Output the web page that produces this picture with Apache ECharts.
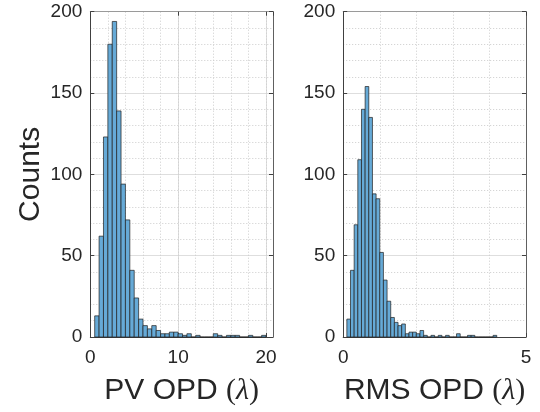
<!DOCTYPE html>
<html>
<head>
<meta charset="utf-8">
<title>OPD histograms</title>
<script src="https://cdn.jsdelivr.net/npm/echarts@6/dist/echarts.min.js"></script>
<style>
  html, body { margin: 0; padding: 0; background: #fff; }
  #chart { width: 540px; height: 412px; }
</style>
</head>
<body>
<div id="chart"></div>
<script>
// PV OPD histogram: bins of 0.5 starting at 0.5
var pvBinStart = 0.5;
var pvBinWidth = 0.5;
var pvCounts = [13, 62, 123, 180, 194, 139, 94, 72, 41, 24,
                11, 7, 5, 7, 4, 2, 2, 3, 3, 2,
                1, 2, 0, 1, 0, 0, 0, 2, 1, 0,
                1, 1, 1, 0, 0, 1, 0, 0, 1];

// RMS OPD histogram: bins of 0.1 starting at 0.1
var rmsBinStart = 0.1;
var rmsBinWidth = 0.1;
var rmsCounts = [11, 41, 69, 109, 140, 154, 135, 88, 85, 52,
                 35, 22, 12, 9, 7, 8, 2, 3, 3, 2,
                 4, 1, 0, 1, 0, 1, 0, 1, 0, 0,
                 2, 0, 0, 1, 1, 0, 0, 0, 0, 0,
                 1];

var countTicks = [0, 50, 100, 150, 200];
var pvTicks = [0, 10, 20];
var rmsTicks = [0, 5];

var textColor = "#262626";
var sansFont = "Liberation Sans, Arial, sans-serif";
var serifFont = "Liberation Serif, DejaVu Serif, serif";

function toBins(start, width, counts) {
  var out = [];
  for (var i = 0; i < counts.length; i++) {
    var lo = start + i * width;
    out.push([lo, lo + width, counts[i]]);
  }
  return out;
}

function renderBar(params, api) {
  var topLeft = api.coord([api.value(0), api.value(2)]);
  var bottomRight = api.coord([api.value(1), 0]);
  return {
    type: "rect",
    shape: {
      x: topLeft[0],
      y: topLeft[1],
      width: bottomRight[0] - topLeft[0],
      height: bottomRight[1] - topLeft[1]
    },
    style: {
      fill: "#66aad7",
      stroke: "#1f1f1f",
      lineWidth: 0.7
    }
  };
}

function axisTitle(label) {
  return "{s|" + label + " }{p|(}{l|λ}{p|)}";
}

var titleRich = {
  s: { fontFamily: sansFont, fontSize: 30, color: textColor },
  p: { fontFamily: serifFont, fontSize: 30, color: textColor },
  l: { fontFamily: serifFont, fontStyle: "italic", fontSize: 30, color: textColor }
};

// bottom axis with labels, major grid lines and the title
function bottomAxis(grid, max, interval, title, minorSplit) {
  return {
    type: "value",
    gridIndex: grid,
    position: "bottom",
    min: 0,
    max: max,
    interval: interval,
    axisLine: { show: true, onZero: false, lineStyle: { color: "#404040", width: 1 } },
    axisTick: { show: true, inside: true, length: 4, lineStyle: { color: "#404040" } },
    axisLabel: {
      show: true,
      margin: 11,
      showMaxLabel: max % interval === 0,
      fontFamily: sansFont,
      fontSize: 19,
      color: textColor
    },
    splitLine: { show: true, lineStyle: { color: "#dedede", width: 1 } },
    minorTick: { show: false, splitNumber: 5 },
    minorSplitLine: { show: minorSplit, lineStyle: { color: "#cccccc", type: [1, 2] } },
    name: axisTitle(title),
    nameLocation: "middle",
    nameGap: 39,
    nameTextStyle: { rich: titleRich }
  };
}

// top edge of the box, ticks only
function topAxis(grid, max, interval) {
  return {
    type: "value",
    gridIndex: grid,
    position: "top",
    min: 0,
    max: max,
    interval: interval,
    axisLine: { show: true, onZero: false, lineStyle: { color: "#9a9a9a", width: 1 } },
    axisTick: { show: true, inside: true, length: 4, lineStyle: { color: "#404040" } },
    axisLabel: { show: false },
    splitLine: { show: false }
  };
}

function leftAxis(grid, withName) {
  var ax = {
    type: "value",
    gridIndex: grid,
    position: "left",
    min: countTicks[0],
    max: countTicks[countTicks.length - 1],
    interval: countTicks[1] - countTicks[0],
    axisLine: { show: true, onZero: false, lineStyle: { color: "#404040", width: 1 } },
    axisTick: { show: true, inside: true, length: 4, lineStyle: { color: "#404040" } },
    axisLabel: { show: true, margin: 8, fontFamily: sansFont, fontSize: 19, color: textColor },
    splitLine: { show: true, lineStyle: { color: "#dedede", width: 1 } },
    minorTick: { show: false, splitNumber: 5 },
    minorSplitLine: { show: true, lineStyle: { color: "#cccccc", type: [1, 2] } }
  };
  if (withName) {
    ax.name = "Counts";
    ax.nameLocation = "middle";
    ax.nameGap = 45;
    ax.nameTextStyle = { fontFamily: sansFont, fontSize: 30, color: textColor };
  }
  return ax;
}

function rightAxis(grid) {
  return {
    type: "value",
    gridIndex: grid,
    position: "right",
    min: countTicks[0],
    max: countTicks[countTicks.length - 1],
    interval: countTicks[1] - countTicks[0],
    axisLine: { show: true, onZero: false, lineStyle: { color: "#606060", width: 1 } },
    axisTick: { show: true, inside: true, length: 4, lineStyle: { color: "#404040" } },
    axisLabel: { show: false },
    splitLine: { show: false }
  };
}

var pvMax = 20.8;
var rmsMax = rmsTicks[rmsTicks.length - 1];

var chart = echarts.init(document.getElementById("chart"), null, { renderer: "canvas" });

var option = {
  animation: false,
  backgroundColor: "#ffffff",
  grid: [
    { left: 90.3, top: 11.7, width: 182.7, height: 325.3 },
    { left: 343.2, top: 11.7, width: 182.8, height: 325.3 }
  ],
  xAxis: [
    bottomAxis(0, pvMax, pvTicks[1] - pvTicks[0], "PV OPD", false),
    topAxis(0, pvMax, pvTicks[1] - pvTicks[0]),
    // dotted minor grid every 2 on the PV axis
    {
      type: "value",
      gridIndex: 0,
      position: "bottom",
      min: 0,
      max: pvMax,
      interval: 2,
      axisLine: { show: false },
      axisTick: { show: false },
      axisLabel: { show: false },
      splitLine: { show: true, lineStyle: { color: "#cccccc", type: [1, 2] } }
    },
    bottomAxis(1, rmsMax, rmsTicks[1] - rmsTicks[0], "RMS OPD", true),
    topAxis(1, rmsMax, rmsTicks[1] - rmsTicks[0])
  ],
  yAxis: [
    leftAxis(0, true),
    rightAxis(0),
    leftAxis(1, false),
    rightAxis(1)
  ],
  series: [
    {
      type: "custom",
      xAxisIndex: 0,
      yAxisIndex: 0,
      renderItem: renderBar,
      encode: { x: [0, 1], y: 2 },
      data: toBins(pvBinStart, pvBinWidth, pvCounts)
    },
    {
      type: "custom",
      xAxisIndex: 3,
      yAxisIndex: 2,
      renderItem: renderBar,
      encode: { x: [0, 1], y: 2 },
      data: toBins(rmsBinStart, rmsBinWidth, rmsCounts)
    }
  ]
};

chart.setOption(option);
</script>
</body>
</html>
